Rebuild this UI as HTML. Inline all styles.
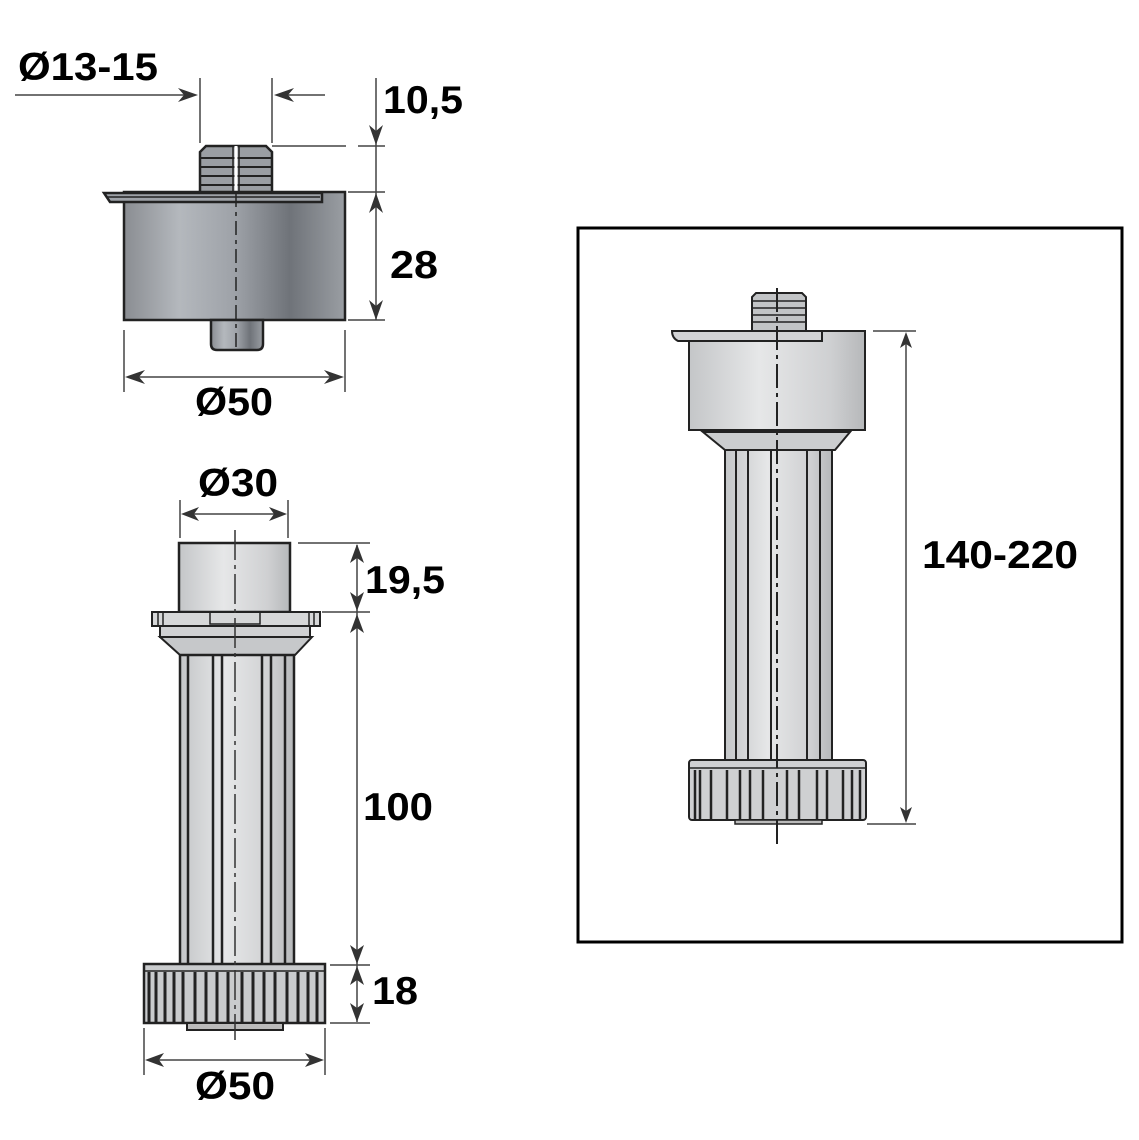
<!DOCTYPE html>
<html><head><meta charset="utf-8"><style>
html,body{margin:0;padding:0;background:#fff;}
svg{display:block;}
text{font-family:"Liberation Sans",sans-serif;font-weight:bold;fill:#000;}
</style></head><body>
<svg width="1139" height="1140" viewBox="0 0 1139 1140" xmlns="http://www.w3.org/2000/svg">
<defs>
<linearGradient id="gDark" x1="0" x2="1" y1="0" y2="0">
<stop offset="0" stop-color="#8a8d92"/><stop offset="0.25" stop-color="#b4b8bd"/><stop offset="0.5" stop-color="#9ea2a8"/><stop offset="0.75" stop-color="#6f7379"/><stop offset="1" stop-color="#9a9ea3"/>
</linearGradient>
<linearGradient id="gLight" x1="0" x2="1" y1="0" y2="0">
<stop offset="0" stop-color="#c4c6c8"/><stop offset="0.4" stop-color="#e6e7e8"/><stop offset="0.8" stop-color="#cfd0d2"/><stop offset="1" stop-color="#b6b8ba"/>
</linearGradient>
</defs>

<!-- ===== TOP PART ===== -->
<g stroke="#444" stroke-width="1.5" fill="none">
<line x1="15" y1="95" x2="190" y2="95"/>
<line x1="200" y1="78" x2="200" y2="143"/>
<line x1="272" y1="78" x2="272" y2="143"/>
<line x1="280" y1="95" x2="325" y2="95"/>
<line x1="376" y1="78" x2="376" y2="320"/>
<line x1="272" y1="146" x2="346" y2="146"/>
<line x1="358" y1="146" x2="385" y2="146"/>
<line x1="348" y1="192" x2="385" y2="192"/>
<line x1="348" y1="320" x2="385" y2="320"/>
<line x1="124" y1="330" x2="124" y2="392"/>
<line x1="345" y1="330" x2="345" y2="392"/>
<line x1="130" y1="377" x2="340" y2="377"/>
</g>
<g fill="#333">
<path d="M198 95 L178 88 L184 95 L178 102Z"/>
<path d="M274 95 L294 88 L288 95 L294 102Z"/>
<path d="M376 145 L369 125 L376 131 L383 125Z"/>
<path d="M376 193 L369 213 L376 207 L383 213Z"/>
<path d="M376 320 L369 300 L376 306 L383 300Z"/>
<path d="M125 377 L145 370 L139 377 L145 384Z"/>
<path d="M344 377 L324 370 L330 377 L324 384Z"/>
</g>
<!-- thread nub -->
<path d="M200 193 L200 152 L206 146 L266 146 L272 152 L272 193Z" fill="#9a9ea3" stroke="#222" stroke-width="2.5"/>
<g stroke="#222" stroke-width="2"><line x1="201" y1="158" x2="271" y2="158"/><line x1="201" y1="167" x2="271" y2="167"/><line x1="201" y1="176" x2="271" y2="176"/><line x1="201" y1="185" x2="271" y2="185"/></g>
<line x1="236" y1="146" x2="236" y2="193" stroke="#fff" stroke-width="3"/>
<line x1="233" y1="146" x2="233" y2="193" stroke="#222" stroke-width="1.5"/><line x1="239" y1="146" x2="239" y2="193" stroke="#222" stroke-width="1.5"/>
<!-- body -->
<rect x="124" y="192" width="221" height="128" fill="url(#gDark)" stroke="#222" stroke-width="2.5"/>
<path d="M104 193 L322 193 L322 202 L110 202Z" fill="#9ea2a8" stroke="#222" stroke-width="2.5"/>
<path d="M107 197 L320 197" stroke="#222" stroke-width="1.5"/>
<path d="M211 320 L211 344 Q211 350 217 350 L257 350 Q263 350 263 344 L263 320Z" fill="url(#gDark)" stroke="#222" stroke-width="2.5"/>
<line x1="236" y1="193" x2="236" y2="350" stroke="#222" stroke-width="1.5" stroke-dasharray="14,5,4,5"/>
<text x="18" y="80" font-size="39" textLength="140" lengthAdjust="spacingAndGlyphs">Ø13-15</text>
<text x="383" y="113" font-size="39" textLength="80" lengthAdjust="spacingAndGlyphs">10,5</text>
<text x="390" y="278" font-size="39" textLength="48" lengthAdjust="spacingAndGlyphs">28</text>
<text x="195" y="415" font-size="39" textLength="78" lengthAdjust="spacingAndGlyphs">Ø50</text>

<!-- ===== BOTTOM LEG ===== -->
<g stroke="#444" stroke-width="1.5" fill="none">
<line x1="180" y1="500" x2="180" y2="538"/>
<line x1="288" y1="500" x2="288" y2="538"/>
<line x1="185" y1="514" x2="283" y2="514"/>
<line x1="298" y1="543" x2="370" y2="543"/>
<line x1="322" y1="612" x2="370" y2="612"/>
<line x1="330" y1="965" x2="370" y2="965"/>
<line x1="330" y1="1023" x2="370" y2="1023"/>
<line x1="357" y1="545" x2="357" y2="1022"/>
<line x1="144" y1="1028" x2="144" y2="1075"/>
<line x1="325" y1="1028" x2="325" y2="1075"/>
<line x1="150" y1="1060" x2="320" y2="1060"/>
</g>
<g fill="#333">
<path d="M181 514 L199 507 L194 514 L199 521Z"/>
<path d="M287 514 L269 507 L274 514 L269 521Z"/>
<path d="M357 544 L350 563 L357 558 L364 563Z"/>
<path d="M357 611 L350 592 L357 597 L364 592Z"/>
<path d="M357 614 L350 633 L357 628 L364 633Z"/>
<path d="M357 964 L350 945 L357 950 L364 945Z"/>
<path d="M357 966 L350 985 L357 980 L364 985Z"/>
<path d="M357 1022 L350 1003 L357 1008 L364 1003Z"/>
<path d="M145 1060 L164 1053 L159 1060 L164 1067Z"/>
<path d="M324 1060 L305 1053 L310 1060 L305 1067Z"/>
</g>
<!-- cap -->
<rect x="179" y="543" width="111" height="69" fill="url(#gLight)" stroke="#222" stroke-width="2.5"/>
<!-- flange -->
<rect x="152" y="612" width="168" height="14" fill="#d6d7d8" stroke="#222" stroke-width="2"/>
<rect x="210" y="612" width="50" height="12" fill="none" stroke="#222" stroke-width="1.5"/>
<g stroke="#222" stroke-width="1.5"><line x1="158" y1="612" x2="158" y2="626"/><line x1="163" y1="612" x2="163" y2="626"/><line x1="309" y1="612" x2="309" y2="626"/><line x1="314" y1="612" x2="314" y2="626"/></g>
<path d="M160 637 L310 637 L310 626 L160 626Z" fill="#d0d1d3" stroke="#222" stroke-width="2"/>
<path d="M160 637 L180 655 L295 655 L312 637Z" fill="#c6c8ca" stroke="#222" stroke-width="2"/>
<!-- column -->
<rect x="180" y="655" width="114" height="310" fill="url(#gLight)" stroke="#222" stroke-width="2.5"/>
<g stroke="#222" stroke-width="2.5"><line x1="188" y1="655" x2="188" y2="965"/><line x1="213" y1="655" x2="213" y2="965"/><line x1="222" y1="655" x2="222" y2="965"/><line x1="262" y1="655" x2="262" y2="965"/><line x1="271" y1="655" x2="271" y2="965"/><line x1="285" y1="655" x2="285" y2="965"/></g>
<!-- knob -->
<rect x="144" y="964" width="181" height="59" fill="#c9cbcd" stroke="#222" stroke-width="2.5"/>
<line x1="144" y1="971" x2="325" y2="971" stroke="#222" stroke-width="1.5"/>
<g stroke="#222" stroke-width="3">
<line x1="149" y1="972" x2="149" y2="1022"/><line x1="156" y1="972" x2="156" y2="1022"/><line x1="165" y1="972" x2="165" y2="1022"/><line x1="174" y1="972" x2="174" y2="1022"/><line x1="183" y1="972" x2="183" y2="1022"/>
<line x1="195" y1="972" x2="195" y2="1022"/><line x1="206" y1="972" x2="206" y2="1022"/><line x1="217" y1="972" x2="217" y2="1022"/><line x1="228" y1="972" x2="228" y2="1022"/>
<line x1="242" y1="972" x2="242" y2="1022"/><line x1="253" y1="972" x2="253" y2="1022"/><line x1="264" y1="972" x2="264" y2="1022"/><line x1="275" y1="972" x2="275" y2="1022"/>
<line x1="287" y1="972" x2="287" y2="1022"/><line x1="298" y1="972" x2="298" y2="1022"/><line x1="308" y1="972" x2="308" y2="1022"/><line x1="317" y1="972" x2="317" y2="1022"/>
</g>
<rect x="187" y="1023" width="96" height="7" fill="#bbb" stroke="#222" stroke-width="2"/>
<line x1="235" y1="530" x2="235" y2="1040" stroke="#333" stroke-width="1.5" stroke-dasharray="30,5,4,5"/>
<text x="198" y="496" font-size="39" textLength="80" lengthAdjust="spacingAndGlyphs">Ø30</text>
<text x="365" y="593" font-size="39" textLength="80" lengthAdjust="spacingAndGlyphs">19,5</text>
<text x="363" y="820" font-size="39" textLength="70" lengthAdjust="spacingAndGlyphs">100</text>
<text x="372" y="1004" font-size="39" textLength="46" lengthAdjust="spacingAndGlyphs">18</text>
<text x="195" y="1099" font-size="39" textLength="80" lengthAdjust="spacingAndGlyphs">Ø50</text>

<!-- ===== RIGHT BOX ===== -->
<rect x="578" y="228" width="544" height="714" fill="none" stroke="#000" stroke-width="3"/>
<g stroke="#444" stroke-width="1.5" fill="none">
<line x1="873" y1="331" x2="916" y2="331"/>
<line x1="867" y1="824" x2="916" y2="824"/>
<line x1="906" y1="335" x2="906" y2="820"/>
</g>
<g fill="#333">
<path d="M906 332 L900 348 L906 344 L912 348Z"/>
<path d="M906 823 L900 807 L906 811 L912 807Z"/>
</g>
<path d="M752 331 L752 297 L756 293 L802 293 L806 297 L806 331Z" fill="#c2c4c6" stroke="#222" stroke-width="2"/>
<g stroke="#222" stroke-width="1.5"><line x1="752" y1="301" x2="806" y2="301"/><line x1="752" y1="308" x2="806" y2="308"/><line x1="752" y1="315" x2="806" y2="315"/><line x1="752" y1="322" x2="806" y2="322"/></g>
<rect x="689" y="331" width="176" height="99" fill="url(#gLight)" stroke="#222" stroke-width="2"/>
<path d="M672 331 L822 331 L822 341 L678 341 Q672 338 672 331Z" fill="#d2d3d5" stroke="#222" stroke-width="2"/>
<path d="M703 432 L850 432 L835 450 L725 450Z" fill="#cbcdcf" stroke="#222" stroke-width="2"/>
<rect x="725" y="450" width="107" height="310" fill="url(#gLight)" stroke="#222" stroke-width="2"/>
<g stroke="#222" stroke-width="2"><line x1="736" y1="450" x2="736" y2="760"/><line x1="748" y1="450" x2="748" y2="760"/><line x1="771" y1="450" x2="771" y2="760"/><line x1="807" y1="450" x2="807" y2="760"/><line x1="820" y1="450" x2="820" y2="760"/></g>
<rect x="689" y="760" width="177" height="60" rx="3" fill="#cfd0d2" stroke="#222" stroke-width="2"/>
<line x1="689" y1="768" x2="866" y2="768" stroke="#222" stroke-width="1.5"/>
<g stroke="#222" stroke-width="2.5">
<line x1="695" y1="770" x2="695" y2="819"/><line x1="700" y1="770" x2="700" y2="819"/><line x1="711" y1="770" x2="711" y2="819"/><line x1="727" y1="770" x2="727" y2="819"/><line x1="740" y1="770" x2="740" y2="819"/>
<line x1="750" y1="770" x2="750" y2="819"/><line x1="763" y1="770" x2="763" y2="819"/><line x1="787" y1="770" x2="787" y2="819"/><line x1="799" y1="770" x2="799" y2="819"/>
<line x1="817" y1="770" x2="817" y2="819"/><line x1="827" y1="770" x2="827" y2="819"/><line x1="843" y1="770" x2="843" y2="819"/><line x1="852" y1="770" x2="852" y2="819"/><line x1="860" y1="770" x2="860" y2="819"/>
</g>
<rect x="735" y="820" width="87" height="4" fill="#bbb" stroke="#222" stroke-width="1.5"/>
<line x1="777" y1="288" x2="777" y2="848" stroke="#222" stroke-width="2" stroke-dasharray="24,5,4,5"/>
<text x="922" y="568" font-size="39" textLength="156" lengthAdjust="spacingAndGlyphs">140-220</text>
</svg>
</body></html>
